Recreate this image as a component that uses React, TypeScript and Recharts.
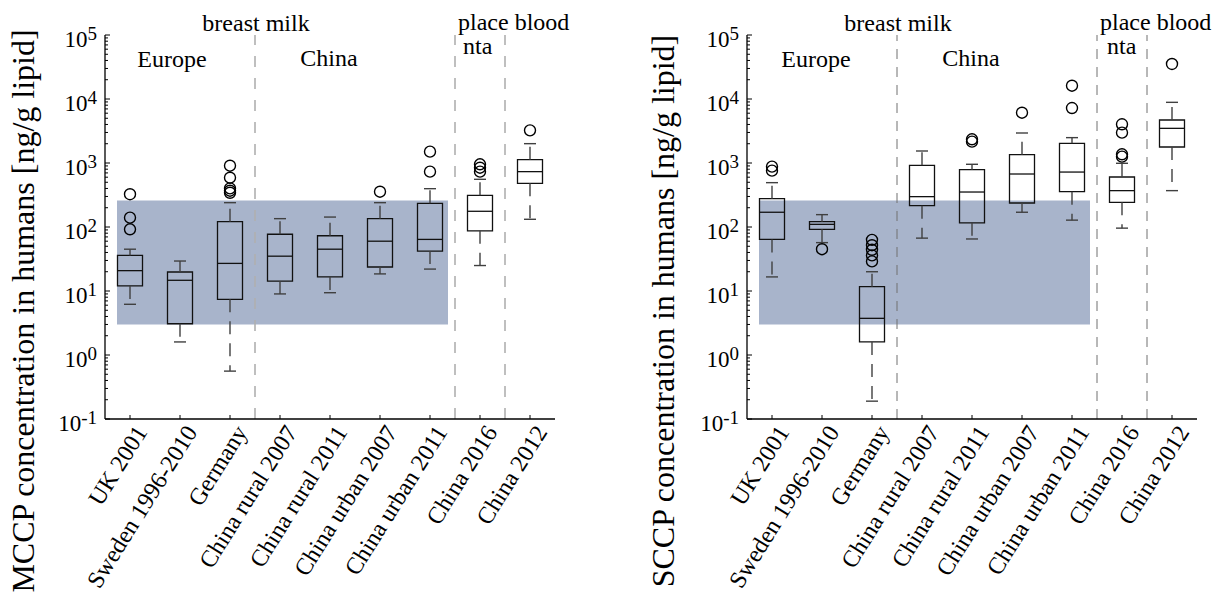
import React from "react";
import {
  ScatterChart,
  Scatter,
  XAxis,
  YAxis,
  ReferenceArea,
  ReferenceLine,
  Customized,
} from "recharts";

const categories = [
  "UK 2001",
  "Sweden 1996-2010",
  "Germany",
  "China rural 2007",
  "China rural 2011",
  "China urban 2007",
  "China urban 2011",
  "China 2016",
  "China 2012",
];

// MCCP (left panel)
const mccpLow = [6.2, 1.6, 0.56, 9.0, 9.4, 18.5, 22, 25, 132];
const mccpQ1 = [12, 3.08, 7.4, 14.3, 16.6, 23.7, 42, 87, 481];
const mccpMed = [20.8, 14.7, 27, 35, 45, 60, 64, 176, 733];
const mccpQ3 = [36, 19.8, 121, 77, 73, 135, 234, 313, 1128];
const mccpHigh = [45, 29.4, 240, 135, 143, 240, 397, 556, 2005];
const mccpOutliers = [
  [325, 140, 92],
  [],
  [908, 589, 402, 369, 343],
  [],
  [],
  [356],
  [1503, 733],
  [955, 845, 733],
  [3236],
];

// SCCP (right panel)
const sccpLow = [16.6, 57, 0.19, 67, 65, 170, 128, 96, 370];
const sccpQ1 = [64, 92, 1.6, 215, 116, 237, 356, 243, 1778];
const sccpMed = [170, 110, 3.74, 298, 352, 673, 722, 370, 3480];
const sccpQ3 = [277, 121, 11.7, 920, 787, 1349, 2027, 604, 4700];
const sccpHigh = [493, 156, 20, 1540, 955, 2943, 2490, 990, 8870];
const sccpOutliers = [
  [877, 759],
  [45],
  [63, 52, 44, 36, 29],
  [],
  [2345, 2154],
  [6110],
  [16150, 7230],
  [4030, 2980, 1368, 1256],
  [35240],
];

// shaded range
const rangeLow = 3;
const rangeHigh = 260;
const rangeX = [0.74, 7.36];
const separators = [3.5, 7.5, 8.5];

const yTicks: number[] = [];
for (let d = -1; d <= 4; d++) {
  for (let k = 1; k <= 9; k++) yTicks.push(+(k * Math.pow(10, d)).toPrecision(3));
}
yTicks.push(100000);

const FONT = "'Liberation Serif', 'Times New Roman', serif";

const YTick = (props: any) => {
  const { x, y, payload } = props;
  const v = payload.value;
  const lg = Math.log10(v);
  const e = Math.round(lg);
  const major = Math.abs(lg - e) < 1e-6;
  return (
    <g>
      <line x1={x} x2={x + (major ? 5 : 3)} y1={y} y2={y} stroke="#000" strokeWidth={1} />
      {major && (
        <text x={x - 8} y={y + 12} textAnchor="end" fontSize={23} fontFamily={FONT} fill="#000">
          10
          <tspan dy={-7} fontSize={19}>
            {String(e)}
          </tspan>
        </text>
      )}
    </g>
  );
};

const XTick = (props: any) => {
  const { x, y, payload } = props;
  const label = categories[payload.value - 1];
  return (
    <g>
      <line x1={x} x2={x} y1={y} y2={y - 4} stroke="#000" strokeWidth={1} />
      <text
        transform={`translate(${x + 18},${y + 13}) rotate(-58)`}
        textAnchor="end"
        fontSize={24}
        fontFamily={FONT}
        fill="#000"
      >
        {label}
      </text>
    </g>
  );
};

type PanelProps = {
  low: number[];
  q1: number[];
  med: number[];
  q3: number[];
  high: number[];
  outliers: number[][];
  ylabel: string;
  sepColor: string;
  sepWidth: number;
  sepDash: string;
  width: number;
  marginLeft: number;
  marginRight: number;
  texts: { t: string; x: number; y: number; anchor: string }[];
};

const Panel = (p: PanelProps) => {
  const pts: { x: number; y: number }[] = [];
  p.outliers.forEach((arr, i) => arr.forEach((v) => pts.push({ x: i + 1, y: v })));
  const boxW = 0.25;
  const capW = 0.12;
  const whiskerColor = "#404040";
  return (
    <ScatterChart
      width={p.width}
      height={600}
      margin={{ top: 35, right: p.marginRight, bottom: 81, left: p.marginLeft }}
    >
      <XAxis
        type="number"
        dataKey="x"
        domain={[0.5, 9.5]}
        ticks={[1, 2, 3, 4, 5, 6, 7, 8, 9]}
        interval={0}
        allowDataOverflow
        height={100}
        tickSize={0}
        tickMargin={0}
        tickLine={false}
        axisLine={{ stroke: "#000", strokeWidth: 1.3 }}
        tick={<XTick />}
      />
      <YAxis
        type="number"
        dataKey="y"
        scale="log"
        domain={[0.1, 100000]}
        allowDataOverflow
        ticks={yTicks}
        interval={0}
        width={60}
        tickSize={0}
        tickMargin={0}
        tickLine={false}
        axisLine={{ stroke: "#000", strokeWidth: 1.3 }}
        tick={<YTick />}
      />
      <ReferenceArea
        x1={rangeX[0]}
        x2={rangeX[1]}
        y1={rangeLow}
        y2={rangeHigh}
        fill="#a8b4cb"
        fillOpacity={1}
        stroke="none"
      />
      {separators.map((s) => (
        <ReferenceLine
          key={"sep" + s}
          segment={[
            { x: s, y: 0.1 },
            { x: s, y: 100000 },
          ]}
          stroke={p.sepColor}
          strokeWidth={p.sepWidth}
          strokeDasharray={p.sepDash}
        />
      ))}
      {categories.map((c, i) => {
        const cx = i + 1;
        return (
          <React.Fragment key={c}>
            <ReferenceLine
              segment={[
                { x: cx, y: p.q3[i] },
                { x: cx, y: p.high[i] },
              ]}
              stroke={whiskerColor}
              strokeWidth={1.4}
              strokeDasharray="13 9"
            />
            <ReferenceLine
              segment={[
                { x: cx, y: p.q1[i] },
                { x: cx, y: p.low[i] },
              ]}
              stroke={whiskerColor}
              strokeWidth={1.4}
              strokeDasharray="13 9"
            />
            <ReferenceLine
              segment={[
                { x: cx - capW, y: p.high[i] },
                { x: cx + capW, y: p.high[i] },
              ]}
              stroke={whiskerColor}
              strokeWidth={1.4}
            />
            <ReferenceLine
              segment={[
                { x: cx - capW, y: p.low[i] },
                { x: cx + capW, y: p.low[i] },
              ]}
              stroke={whiskerColor}
              strokeWidth={1.4}
            />
            <ReferenceArea
              x1={cx - boxW}
              x2={cx + boxW}
              y1={p.q1[i]}
              y2={p.q3[i]}
              fill="none"
              fillOpacity={0}
              stroke="#111"
              strokeWidth={1.3}
            />
            <ReferenceLine
              segment={[
                { x: cx - boxW, y: p.med[i] },
                { x: cx + boxW, y: p.med[i] },
              ]}
              stroke="#111"
              strokeWidth={1.3}
            />
          </React.Fragment>
        );
      })}
      <Scatter
        data={pts}
        isAnimationActive={false}
        shape={(sp: any) => (
          <circle cx={sp.cx} cy={sp.cy} r={5.5} fill="none" stroke="#000" strokeWidth={1.4} />
        )}
      />
      <Customized
        component={() => (
          <g>
            {p.texts.map((t, k) => (
              <text
                key={k}
                x={t.x}
                y={t.y}
                textAnchor={t.anchor as any}
                fontSize={24}
                fontFamily={FONT}
                fill="#000"
              >
                {t.t}
              </text>
            ))}
            <text
              transform={`translate(34,311) rotate(-90)`}
              textAnchor="middle"
              fontSize={32}
              fontFamily={FONT}
              fill="#000"
            >
              {p.ylabel}
            </text>
          </g>
        )}
      />
    </ScatterChart>
  );
};

const leftTexts = [
  { t: "breast milk", x: 256, y: 31, anchor: "middle" },
  { t: "Europe", x: 172, y: 67, anchor: "middle" },
  { t: "China", x: 329, y: 66, anchor: "middle" },
  { t: "place blood", x: 458, y: 30, anchor: "start" },
  { t: "nta", x: 463, y: 54, anchor: "start" },
];
const rightTexts = [
  { t: "breast milk", x: 258, y: 31, anchor: "middle" },
  { t: "Europe", x: 176, y: 67, anchor: "middle" },
  { t: "China", x: 331, y: 66, anchor: "middle" },
  { t: "place blood", x: 460, y: 30, anchor: "start" },
  { t: "nta", x: 467, y: 54, anchor: "start" },
];

export default function App() {
  return (
    <div style={{ position: "absolute", left: 0, top: 0, width: 1214, height: 600, background: "#fff" }}>
      <div style={{ position: "absolute", left: 0, top: 0 }}>
        <Panel
          low={mccpLow}
          q1={mccpQ1}
          med={mccpMed}
          q3={mccpQ3}
          high={mccpHigh}
          outliers={mccpOutliers}
          ylabel="MCCP concentration in humans [ng/g lipid]"
          sepColor="#b0b0b0"
          sepWidth={1.6}
          sepDash="11 11"
          width={640}
          marginLeft={45}
          marginRight={85}
          texts={leftTexts}
        />
      </div>
      <div style={{ position: "absolute", left: 640, top: 0 }}>
        <Panel
          low={sccpLow}
          q1={sccpQ1}
          med={sccpMed}
          q3={sccpQ3}
          high={sccpHigh}
          outliers={sccpOutliers}
          ylabel="SCCP concentration in humans [ng/g lipid]"
          sepColor="#707070"
          sepWidth={1}
          sepDash="10 8"
          width={574}
          marginLeft={47}
          marginRight={17}
          texts={rightTexts}
        />
      </div>
    </div>
  );
}
